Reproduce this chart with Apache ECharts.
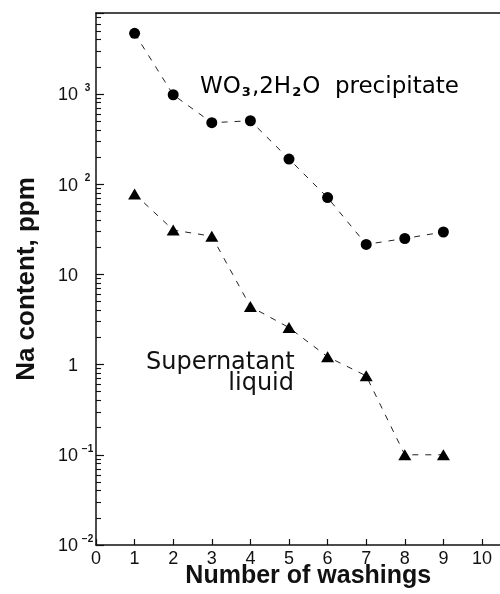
<!DOCTYPE html>
<html>
<head>
<meta charset="utf-8">
<script src="https://cdn.jsdelivr.net/npm/echarts@6/dist/echarts.min.js"></script>
<style>
html,body{margin:0;padding:0;background:#fff;}
#chart{width:500px;height:594px;}
</style>
</head>
<body>
<div id="chart"></div>
<script>
// ---- data ----
const washings = [1, 2, 3, 4, 5, 6, 7, 8, 9];
const precipitate = [4700, 980, 480, 505, 190, 71, 21.5, 25, 29.5];
const supernatant = [78, 31, 26.5, 4.4, 2.57, 1.22, 0.75, 0.10, 0.10];

const xTickLabels = ['0','1','2','3','4','5','6','7','8','9','10'];
const yTickValues = [0.01, 0.1, 1, 10, 100, 1000];
const yTickBase = ['10', '10', '1', '10', '10', '10'];
const yTickExp  = ['\u22122', '\u22121', '', '', '2', '3'];
const minorTickValues = [];
[0.01, 0.1, 1, 10, 100, 1000].forEach(function (d) {
  for (let k = 2; k <= 9; k++) { const v = d * k; if (v <= 7900) minorTickValues.push(v); }
});

const yMin = 0.01, yMax = 7900;
const FONT = 'Liberation Sans, Arial, sans-serif';
const ANN = 'DejaVu Sans, sans-serif';

const chart = echarts.init(document.getElementById('chart'), null, {renderer: 'canvas'});

const option = {
  backgroundColor: '#fff',
  animation: false,
  grid: {left: 96, top: 13, bottom: 49, right: -20.6, containLabel: false, outerBoundsMode: 'none'},
  xAxis: [{
    type: 'value', min: 0, max: 11, interval: 1, position: 'bottom',
    name: 'Number of washings', nameLocation: 'middle', nameGap: 19, nameMoveOverlap: false,
    nameTextStyle: {fontFamily: FONT, fontSize: 25, fontWeight: 'bold', color: '#111'},
    axisLine: {show: true, onZero: false, lineStyle: {color: '#111', width: 1.5}},
    axisTick: {show: true, inside: true, length: 6, lineStyle: {color: '#111', width: 1.2}},
    axisLabel: {
      show: true, margin: 5, fontFamily: FONT, fontSize: 18, color: '#111',
      showMaxLabel: false,
      formatter: function (v) { return xTickLabels[Math.round(v)] !== undefined ? xTickLabels[Math.round(v)] : ''; }
    },
    splitLine: {show: false}
  }, {
    type: 'value', min: 0, max: 11, position: 'top',
    axisLine: {show: true, onZero: false, lineStyle: {color: '#111', width: 1.5}},
    axisTick: {show: false}, axisLabel: {show: false}, splitLine: {show: false}
  }],
  yAxis: [{
    type: 'log', logBase: 10, min: yMin, max: yMax, position: 'left',
    name: 'Na content, ppm', nameLocation: 'middle', nameGap: 56, nameRotate: 90, nameMoveOverlap: false,
    nameTextStyle: {fontFamily: FONT, fontSize: 26, fontWeight: 'bold', color: '#111'},
    axisLine: {show: true, onZero: false, lineStyle: {color: '#111', width: 1.5}},
    axisTick: {show: true, inside: true, length: 8, lineStyle: {color: '#111', width: 1.2}},
    axisLabel: {
      show: true, margin: 3,
      customValues: yTickValues,
      formatter: function (v) {
        let i = -1;
        for (let j = 0; j < yTickValues.length; j++) {
          if (Math.abs(Math.log10(v) - Math.log10(yTickValues[j])) < 1e-6) i = j;
        }
        if (i < 0) return '';
        return '{b|' + yTickBase[i] + '}{s|' + (yTickExp[i] || ' ') + '}';
      },
      rich: {
        b: {fontFamily: FONT, fontSize: 18, color: '#111', verticalAlign: 'bottom', padding: [3, 0, 0, 0]},
        s: {fontFamily: FONT, fontSize: 10, fontWeight: 'bold', color: '#111', width: 11, align: 'left',
            verticalAlign: 'top', padding: [0, 0, 0, 4]}
      }
    },
    splitLine: {show: false}
  }, {
    type: 'value', min: Math.log10(yMin), max: Math.log10(yMax), position: 'left',
    axisLine: {show: false, onZero: false},
    axisTick: {show: true, inside: true, length: 5, customValues: minorTickValues.map(function (v) { return Math.log10(v); }),
               lineStyle: {color: '#111', width: 1.1}},
    axisLabel: {show: false}, splitLine: {show: false}
  }],
  series: [{
    name: 'WO3,2H2O precipitate', type: 'line', xAxisIndex: 0, yAxisIndex: 0,
    data: washings.map(function (x, i) { return [x, precipitate[i]]; }),
    symbol: 'circle', symbolSize: 11,
    itemStyle: {color: '#000'},
    lineStyle: {color: '#222', width: 1, type: [6, 7]}
  }, {
    name: 'Supernatant liquid', type: 'line', xAxisIndex: 0, yAxisIndex: 0,
    data: washings.map(function (x, i) { return [x, supernatant[i]]; }),
    symbol: 'triangle', symbolSize: [13, 11],
    itemStyle: {color: '#000'},
    lineStyle: {color: '#222', width: 1, type: [6, 7]}
  }],
  graphic: [{
    type: 'text', left: 200, top: 76,
    style: {
      text: '{n|WO}{u|3}{n|,2H}{u|2}{n|O  precipitate}',
      rich: {
        n: {fontFamily: ANN, fontSize: 23, color: '#111', verticalAlign: 'bottom'},
        u: {fontFamily: ANN, fontSize: 13, fontWeight: 'bold', color: '#111', verticalAlign: 'bottom', padding: [0, 1, 0, 1]}
      }
    }
  }, {
    type: 'text', left: 146, top: 351,
    style: {text: 'Supernatant', fontFamily: ANN, fontSize: 24, fill: '#111'}
  }, {
    type: 'text', right: 206, top: 372,
    style: {text: 'liquid', fontFamily: ANN, fontSize: 24, fill: '#111'}
  }]
};
chart.setOption(option);
</script>
</body>
</html>
